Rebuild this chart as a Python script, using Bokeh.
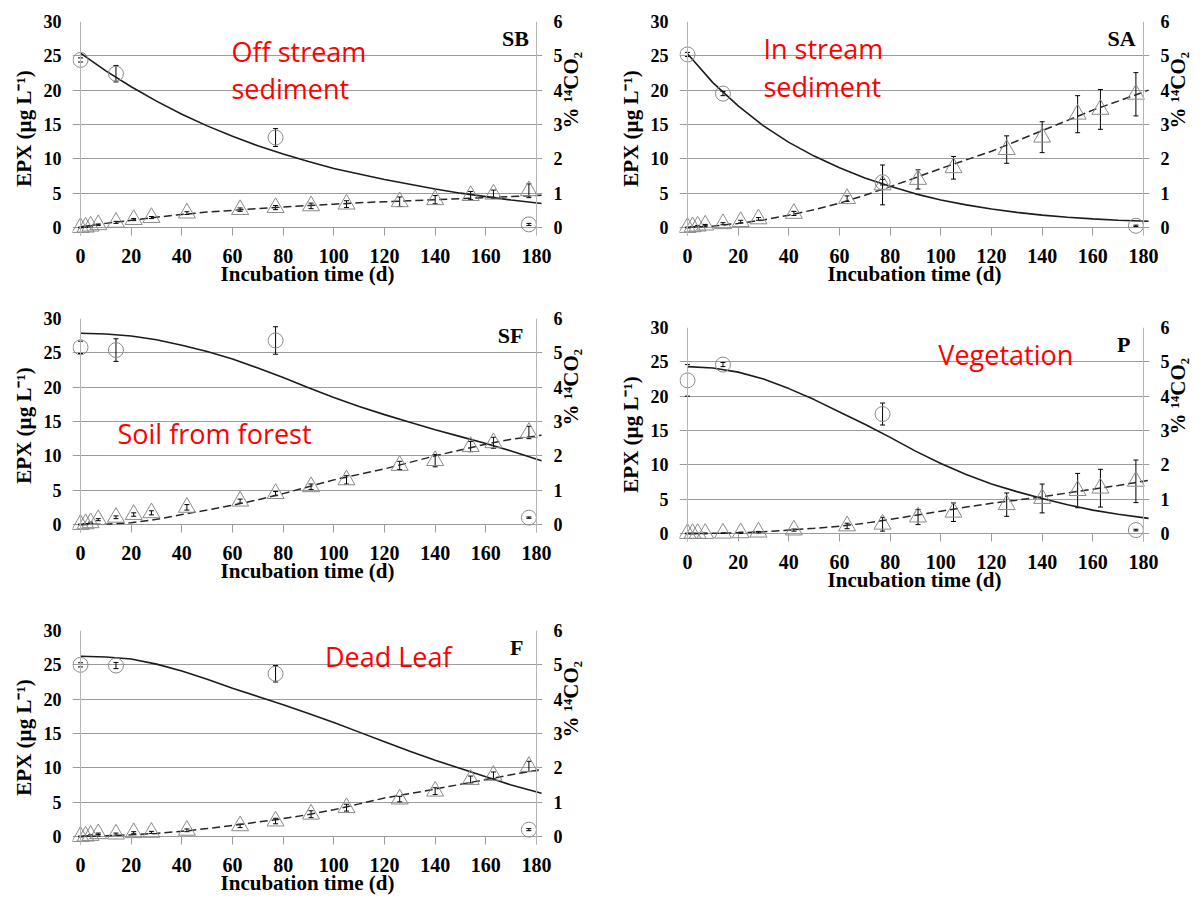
from math import pi
from bokeh.plotting import figure
from bokeh.models import (Range1d, LinearAxis, FixedTicker, Span, Label, Whisker,
                          TeeHead, ColumnDataSource, Spacer)
from bokeh.layouts import column, row
from bokeh.embed import file_html
from bokeh.resources import INLINE

# ---------------- data ----------------
EPX_DAYS = [0, 14, 77, 177]
CO2_DAYS = [0, 2, 4, 7, 14, 21, 28, 42, 63, 77, 91, 105, 126, 140, 154, 163, 177]
FIT_DAYS = [0, 10, 20, 30, 40, 50, 60, 70, 80, 90, 100, 110, 120, 130, 140, 150, 160, 170, 182]

X_TICKS = [0, 20, 40, 60, 80, 100, 120, 140, 160, 180]
Y_TICKS = [0, 5, 10, 15, 20, 25, 30]
Y2_TICKS = [0, 1, 2, 3, 4, 5, 6]

# SB - off stream sediment
SB_epx = [24.4, 22.4, 13.1, 0.45]
SB_epx_err = [0.3, 1.2, 1.3, 0.15]
SB_co2 = [0.0, 0.01, 0.04, 0.08, 0.15, 0.23, 0.29, 0.42, 0.52, 0.58, 0.63, 0.68, 0.75, 0.81, 0.93, 0.97, 1.07]
SB_co2_err = [0.01, 0.01, 0.02, 0.02, 0.03, 0.03, 0.03, 0.04, 0.05, 0.06, 0.08, 0.10, 0.14, 0.12, 0.12, 0.12, 0.20]
SB_fit = [25.4, 22.8, 20.5, 18.4, 16.5, 14.8, 13.3, 11.9, 10.7, 9.6, 8.6, 7.8, 7.0, 6.3, 5.6, 5.0, 4.5, 4.0, 3.5]
SB_co2_fit = [0.02, 0.12, 0.21, 0.30, 0.38, 0.45, 0.50, 0.55, 0.60, 0.64, 0.68, 0.72, 0.75, 0.78, 0.81, 0.84, 0.87, 0.90, 0.94]

# SA - in stream sediment
SA_epx = [25.2, 19.5, 6.6, 0.25]
SA_epx_err = [0.3, 0.3, 0.4, 0.1]
SA_co2 = [0.0, 0.02, 0.04, 0.07, 0.11, 0.17, 0.25, 0.41, 0.84, 1.24, 1.40, 1.74, 2.27, 2.63, 3.30, 3.44, 3.88]
SA_co2_err = [0.01, 0.01, 0.02, 0.02, 0.03, 0.04, 0.04, 0.06, 0.08, 0.58, 0.28, 0.33, 0.40, 0.45, 0.54, 0.58, 0.63]
SA_fit = [25.3, 21.1, 17.7, 14.8, 12.4, 10.4, 8.7, 7.2, 6.0, 4.9, 4.0, 3.3, 2.7, 2.2, 1.8, 1.5, 1.25, 1.05, 0.9]
SA_co2_fit = [0.0, 0.04, 0.12, 0.22, 0.36, 0.52, 0.71, 0.94, 1.19, 1.45, 1.72, 1.97, 2.22, 2.52, 2.82, 3.12, 3.42, 3.68, 4.0]

# SF - soil from forest
SF_epx = [25.8, 25.4, 26.8, 1.0]
SF_epx_err = [0.9, 1.65, 2.0, 0.1]
SF_co2 = [0.0, 0.02, 0.05, 0.14, 0.21, 0.29, 0.34, 0.50, 0.68, 0.90, 1.10, 1.30, 1.72, 1.86, 2.27, 2.38, 2.68]
SF_co2_err = [0.01, 0.01, 0.02, 0.03, 0.04, 0.05, 0.06, 0.08, 0.06, 0.06, 0.08, 0.12, 0.12, 0.18, 0.15, 0.16, 0.18]
SF_fit = [27.85, 27.75, 27.45, 26.9, 26.1, 25.2, 24.1, 22.8, 21.4, 19.9, 18.5, 17.2, 16.0, 14.9, 13.8, 12.8, 11.8, 10.7, 9.3]
SF_co2_fit = [0.0, 0.01, 0.05, 0.15, 0.29, 0.42, 0.56, 0.72, 0.90, 1.10, 1.30, 1.46, 1.62, 1.81, 2.0, 2.17, 2.34, 2.48, 2.6]

# P - vegetation
P_epx = [22.3, 24.6, 17.4, 0.5]
P_epx_err = [2.3, 0.3, 1.6, 0.12]
P_co2 = [0.0, 0.0, 0.0, 0.0, 0.01, 0.02, 0.04, 0.10, 0.22, 0.27, 0.48, 0.62, 0.84, 1.02, 1.25, 1.32, 1.52]
P_co2_err = [0.01, 0.01, 0.01, 0.01, 0.01, 0.02, 0.02, 0.03, 0.08, 0.20, 0.22, 0.27, 0.34, 0.42, 0.50, 0.55, 0.62]
P_fit = [24.3, 24.1, 23.5, 22.5, 21.1, 19.5, 17.7, 15.9, 14.0, 12.0, 10.2, 8.6, 7.2, 6.1, 5.1, 4.2, 3.4, 2.8, 2.2]
P_co2_fit = [0.0, 0.005, 0.02, 0.05, 0.10, 0.15, 0.21, 0.30, 0.41, 0.53, 0.65, 0.77, 0.88, 0.97, 1.07, 1.18, 1.29, 1.40, 1.55]

# F - dead leaf
F_epx = [25.0, 24.9, 23.7, 1.0]
F_epx_err = [0.3, 0.45, 1.2, 0.15]
F_co2 = [0.0, 0.01, 0.03, 0.08, 0.07, 0.11, 0.12, 0.18, 0.31, 0.45, 0.65, 0.84, 1.09, 1.32, 1.66, 1.78, 2.04]
F_co2_err = [0.01, 0.01, 0.02, 0.02, 0.03, 0.03, 0.03, 0.04, 0.05, 0.08, 0.10, 0.10, 0.08, 0.10, 0.10, 0.10, 0.15]
F_fit = [26.25, 26.15, 25.85, 25.1, 24.1, 22.9, 21.6, 20.4, 19.2, 17.9, 16.6, 15.2, 13.8, 12.4, 11.1, 9.9, 8.7, 7.5, 6.3]
F_co2_fit = [0.0, 0.02, 0.05, 0.09, 0.15, 0.23, 0.32, 0.42, 0.52, 0.64, 0.78, 0.95, 1.12, 1.25, 1.38, 1.52, 1.66, 1.80, 1.95]

# ---------------- styling / geometry ----------------
FW, FH = 470, 214
PAD = 8                      # px of frame outside the 0 lines
PX_PER_DAY = 456 / 180
PX_PER_UNIT = (FH - PAD) / 30
X0 = -PAD / PX_PER_DAY
X1 = (FW - PAD) / PX_PER_DAY
Y0 = -PAD / PX_PER_UNIT
RATIO = Y_TICKS[-1] / Y2_TICKS[-1]
LIFT = 8 / PX_PER_UNIT       # text placement correction (px -> data units)

SERIF = "Liberation Serif"
GRID = "#9c9c9c"
AXLINE = "#b4b4b4"
MARK = "#8a8a8a"


def style_axis(ax, size):
    ax.axis_line_color = None
    ax.minor_tick_line_color = None
    ax.minor_tick_in = 0
    ax.minor_tick_out = 0
    ax.major_label_text_font = SERIF
    ax.major_label_text_font_style = "bold"
    ax.major_label_text_font_size = size
    ax.major_label_text_color = "black"
    ax.axis_label_text_font = SERIF
    ax.axis_label_text_font_style = "bold"
    ax.axis_label_text_font_size = "21px"
    ax.axis_label_text_color = "black"


def panel(tag, red_lines, epx, epx_err, co2, co2_err, fit, co2_fit,
          bl, br, bt, bb, tag_x):
    p = figure(frame_width=FW, frame_height=FH,
               x_range=Range1d(X0, X1), y_range=Range1d(Y0, Y_TICKS[-1]),
               output_backend="svg", toolbar_location=None,
               min_border_left=bl, min_border_right=br,
               min_border_top=bt, min_border_bottom=bb)
    p.outline_line_color = None
    p.background_fill_color = "white"
    p.border_fill_color = "white"
    p.extra_y_ranges = {"co2": Range1d(Y0 / RATIO, Y2_TICKS[-1])}

    p.xgrid.visible = False
    p.ygrid.ticker = FixedTicker(ticks=Y_TICKS)
    p.ygrid.grid_line_color = GRID
    p.ygrid.grid_line_width = 1

    xa = p.xaxis[0]
    xa.ticker = FixedTicker(ticks=X_TICKS)
    style_axis(xa, "20px")
    xa.major_tick_in = PAD
    xa.major_tick_out = 0
    xa.major_tick_line_color = GRID
    xa.major_label_standoff = 13
    xa.axis_label = "Incubation time (d)"
    xa.axis_label_standoff = -4

    ya = p.yaxis[0]
    ya.ticker = FixedTicker(ticks=Y_TICKS)
    style_axis(ya, "18px")
    ya.major_tick_in = 0
    ya.major_tick_out = 0
    ya.major_tick_line_color = None
    ya.major_label_standoff = 11
    ya.axis_label = "EPX (µg L⁻¹)"
    ya.axis_label_standoff = 5

    ra = LinearAxis(y_range_name="co2", ticker=FixedTicker(ticks=Y2_TICKS))
    style_axis(ra, "18px")
    ra.major_tick_in = 0
    ra.major_tick_out = 0
    ra.major_tick_line_color = None
    ra.major_label_standoff = 11
    ra.axis_label = "% ¹⁴CO₂"
    ra.axis_label_standoff = 5
    try:
        ra.axis_label_orientation = pi / 2   # read bottom-to-top like the reference
    except Exception:
        pass
    p.add_layout(ra, "right")

    p.add_layout(Span(location=X_TICKS[0], dimension="height", line_color=AXLINE, line_width=1))
    p.add_layout(Span(location=X_TICKS[-1], dimension="height", line_color=AXLINE, line_width=1))

    # fitted curves
    p.line(FIT_DAYS, fit, line_color="#1c1c1c", line_width=1.6)
    p.line(FIT_DAYS, co2_fit, y_range_name="co2", line_color="#262626",
           line_width=1.5, line_dash="8 4")

    # markers
    p.scatter(EPX_DAYS, epx, marker="circle", size=15, fill_color=None,
              line_color=MARK, line_width=1)
    p.scatter(CO2_DAYS, co2, marker="triangle", size=17, fill_color=None,
              line_color=MARK, line_width=1, y_range_name="co2")

    # error bars
    s1 = ColumnDataSource(dict(x=EPX_DAYS,
                               lo=[v - e for v, e in zip(epx, epx_err)],
                               hi=[v + e for v, e in zip(epx, epx_err)]))
    s2 = ColumnDataSource(dict(x=CO2_DAYS,
                               lo=[v - e for v, e in zip(co2, co2_err)],
                               hi=[v + e for v, e in zip(co2, co2_err)]))
    for src, rn in ((s1, "default"), (s2, "co2")):
        w = Whisker(source=src, base="x", lower="lo", upper="hi", dimension="height",
                    line_color="black", line_width=1, y_range_name=rn,
                    upper_head=TeeHead(size=5, line_color="black", line_width=1),
                    lower_head=TeeHead(size=5, line_color="black", line_width=1))
        p.add_layout(w)

    # panel tag
    p.add_layout(Label(x=tag_x, y=26.45 + 7 / PX_PER_UNIT, text=tag, text_font=SERIF,
                       text_font_style="bold", text_font_size="22px",
                       text_align="right", text_baseline="alphabetic",
                       text_color="black"))
    # red annotation
    for txt, lx, ly in red_lines:
        p.add_layout(Label(x=lx, y=ly + LIFT, text=txt, text_font="Open Sans",
                           text_font_size="27px", text_color="#ff0000",
                           text_align="left", text_baseline="alphabetic"))
    return p


p_sb = panel("SB", [("Off stream", 59.6, 24.42), ("sediment", 59.6, 19.08)],
             SB_epx, SB_epx_err, SB_co2, SB_co2_err, SB_fit, SB_co2_fit,
             72, 58, 21, 58, 177.0)
p_sa = panel("SA", [("In stream", 30.0, 24.95), ("sediment", 30.0, 19.37)],
             SA_epx, SA_epx_err, SA_co2, SA_co2_err, SA_fit, SA_co2_fit,
             79, 52, 21, 58, 176.9)
p_sf = panel("SF", [("Soil from forest", 14.6, 12.07)],
             SF_epx, SF_epx_err, SF_co2, SF_co2_err, SF_fit, SF_co2_fit,
             72, 58, 25, 56, 174.8)
p_p = panel("P", [("Vegetation", 99.0, 24.96)],
            P_epx, P_epx_err, P_co2, P_co2_err, P_fit, P_co2_fit,
            79, 52, 25, 56, 174.8)
p_f = panel("F", [("Dead Leaf", 96.5, 25.0)],
            F_epx, F_epx_err, F_co2, F_co2_err, F_fit, F_co2_fit,
            72, 58, 33, 56, 174.8)

layout = column(row(p_sb, p_sa),
                row(p_sf, column(Spacer(width=601, height=9), p_p)),
                p_f)

with open("out.html", "w") as fh:
    fh.write(file_html(layout, INLINE))
